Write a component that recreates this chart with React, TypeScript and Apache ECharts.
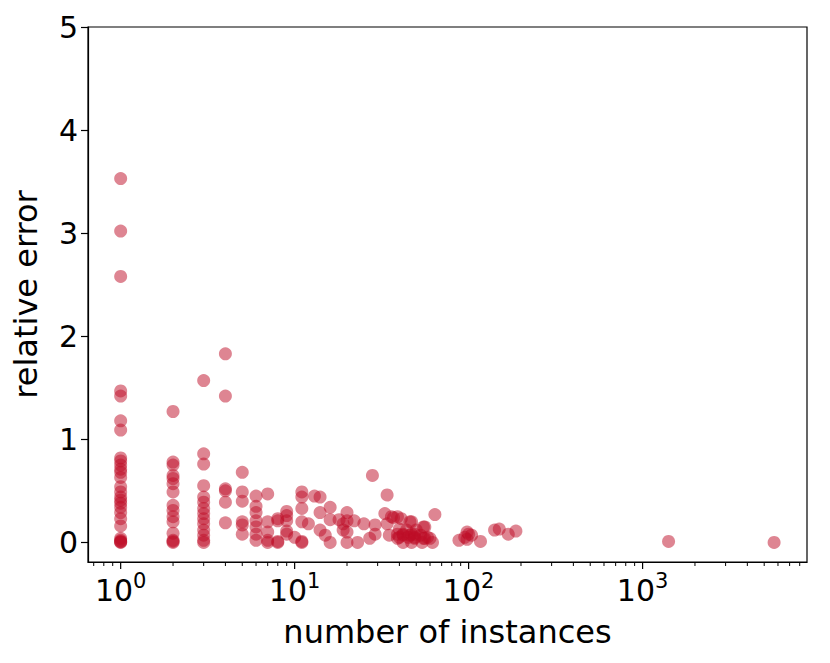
import React, { useEffect, useRef } from "react";
import * as echarts from "echarts";

const instanceCounts: number[] = [
  1, 1, 1, 1, 1, 1, 1, 1, 1, 1, 1, 1, 1, 1, 1, 1, 1, 1, 1, 1, 1, 1, 1, 1, 1, 1, 1,
  2, 2, 2, 2, 2, 2, 2, 2, 2, 2, 2, 2, 2, 2, 2,
  3, 3, 3, 3, 3, 3, 3, 3, 3, 3, 3, 3, 3, 3,
  4, 4, 4, 4, 4, 4,
  5, 5, 5, 5, 5, 5,
  6, 6, 6, 6, 6, 6, 6,
  7, 7, 7, 7, 7,
  8, 8, 8, 8,
  9, 9, 9, 9, 9,
  10,
  11, 11, 11, 11, 11, 11,
  12, 13, 14, 14, 14, 15, 16, 16, 16, 18, 19, 19,
  20, 20, 20, 20, 22, 23, 25, 27, 28, 29, 29, 33, 34, 34, 35, 36, 37,
  39, 39, 39, 40, 40, 41, 42, 42, 42, 44, 45, 46, 46, 47, 47, 47,
  49, 49, 49, 50, 53, 54, 55, 55, 56, 56, 58, 60, 62, 64,
  88, 95, 98, 98, 100, 104, 117, 141, 150, 169, 187, 1410, 5700,
];

const relativeErrors: number[] = [
  3.53, 3.02, 2.58, 1.47, 1.42, 1.18, 1.09, 0.82, 0.79, 0.75, 0.71, 0.68, 0.63, 0.54, 0.49, 0.44, 0.41, 0.38, 0.34, 0.29, 0.23, 0.16, 0.04, 0.02, 0.01, 0.0, 0.005,
  1.27, 0.78, 0.75, 0.65, 0.62, 0.57, 0.49, 0.36, 0.31, 0.25, 0.2, 0.09, 0.02, 0.01, 0.0,
  1.57, 0.86, 0.76, 0.55, 0.44, 0.39, 0.33, 0.28, 0.23, 0.18, 0.12, 0.07, 0.02, 0.0,
  1.83, 1.42, 0.52, 0.5, 0.39, 0.19,
  0.68, 0.49, 0.4, 0.2, 0.17, 0.08,
  0.45, 0.35, 0.29, 0.21, 0.15, 0.08, 0.02,
  0.47, 0.2, 0.1, 0.02, 0.0,
  0.23, 0.21, 0.0, 0.01,
  0.3, 0.26, 0.21, 0.11, 0.08,
  0.05,
  0.49, 0.44, 0.33, 0.2, 0.01, 0.0,
  0.18, 0.45, 0.44, 0.29, 0.12, 0.07, 0.34, 0.22, 0.0, 0.22, 0.18, 0.12,
  0.29, 0.21, 0.1, 0.0, 0.21, 0.0, 0.18, 0.04, 0.65, 0.17, 0.08, 0.28, 0.46, 0.18, 0.07, 0.25, 0.24,
  0.25, 0.08, 0.04, 0.13, 0.05, 0.23, 0.07, 0.08, 0.0, 0.12, 0.05, 0.2, 0.07, 0.2, 0.08, 0.0,
  0.08, 0.05, 0.04, 0.12, 0.07, 0.0, 0.15, 0.04, 0.15, 0.04, 0.05, 0.04, 0.0, 0.27,
  0.02, 0.05, 0.03, 0.1, 0.08, 0.07, 0.01, 0.12, 0.13, 0.08, 0.11, 0.01, 0.0,
];

const majorTicksX: number[] = [1, 10, 100, 1000];
const minorTicksX: number[] = [
  0.7, 0.8, 0.9,
  2, 3, 4, 5, 6, 7, 8, 9,
  20, 30, 40, 50, 60, 70, 80, 90,
  200, 300, 400, 500, 600, 700, 800, 900,
  2000, 3000, 4000, 5000, 6000, 7000, 8000,
];

const X_MIN = 0.649;
const X_MAX = 8810;
const Y_MIN = -0.19;
const Y_MAX = 5;

const FONT = "DejaVu Sans";

export default function App() {
  const ref = useRef<HTMLDivElement>(null);
  useEffect(() => {
    if (!ref.current) return;
    const chart = echarts.init(ref.current, null, { renderer: "svg" });
    const points = instanceCounts.map((n, i) => [n, relativeErrors[i]]);
    const tickData = [
      ...majorTicksX.map((v) => [v, 1]),
      ...minorTicksX.map((v) => [v, 0]),
    ];
    chart.setOption({
      animation: false,
      backgroundColor: "#ffffff",
      grid: {
        left: 80,
        right: 23,
        top: 19,
        bottom: 101,
        containLabel: false,
        outerBoundsMode: "none",
        show: true,
        borderColor: "#000000",
        borderWidth: 1.2,
        backgroundColor: "transparent",
      },
      xAxis: {
        type: "log",
        logBase: 10,
        min: X_MIN,
        max: X_MAX,
        name: "number of instances",
        nameLocation: "middle",
        nameGap: 54,
        nameTextStyle: { fontFamily: FONT, fontSize: 32, color: "#000" },
        axisLine: { show: true, onZero: false, lineStyle: { color: "#000", width: 1.2 } },
        axisTick: { show: false },
        splitLine: { show: false },
        axisLabel: {
          showMinLabel: false,
          showMaxLabel: false,
          margin: 10,
          color: "#000",
          fontFamily: FONT,
          formatter: (v: number) => {
            const k = Math.round(Math.log10(v));
            return "{b|10}{s|" + k + "}";
          },
          rich: {
            b: { fontSize: 30, fontFamily: FONT, color: "#000", lineHeight: 36 },
            s: {
              fontSize: 21,
              fontFamily: FONT,
              color: "#000",
              lineHeight: 36,
              padding: [0, 0, 18, 0],
            },
          },
        },
      },
      yAxis: {
        type: "value",
        min: Y_MIN,
        max: Y_MAX,
        splitNumber: 5,
        name: "relative error",
        nameLocation: "middle",
        nameGap: 46,
        nameRotate: 90,
        nameTextStyle: { fontFamily: FONT, fontSize: 32, color: "#000" },
        axisLine: { show: true, onZero: false, lineStyle: { color: "#000", width: 1.2 } },
        axisTick: { show: true, length: 7, lineStyle: { color: "#000", width: 1.2 } },
        splitLine: { show: false },
        axisLabel: {
          showMinLabel: false,
          margin: 10,
          color: "#000",
          fontFamily: FONT,
          fontSize: 30,
        },
      },
      series: [
        {
          type: "scatter",
          data: points,
          symbolSize: 13,
          itemStyle: { color: "rgb(190,12,38)", opacity: 0.5 },
          silent: true,
          z: 2,
        },
        {
          type: "custom",
          data: tickData,
          clip: false,
          silent: true,
          z: 5,
          renderItem: (_params: any, api: any) => {
            const v = api.value(0);
            const isMajor = api.value(1) === 1;
            const p = api.coord([v, Y_MIN]);
            const len = isMajor ? 7 : 4;
            return {
              type: "line",
              shape: { x1: p[0], y1: p[1], x2: p[0], y2: p[1] + len },
              style: { stroke: "#000", lineWidth: isMajor ? 1.2 : 1 },
            };
          },
        },
      ],
    });
    return () => chart.dispose();
  }, []);
  return <div ref={ref} style={{ width: 822, height: 655 }} />;
}
